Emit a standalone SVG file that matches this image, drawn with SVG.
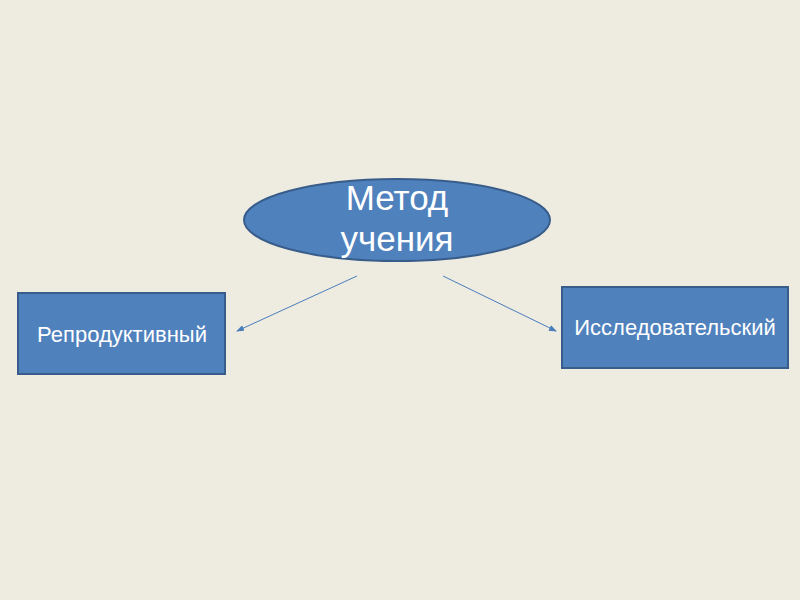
<svg xmlns="http://www.w3.org/2000/svg" width="800" height="600" viewBox="0 0 800 600">
<defs>
<style>
.node{fill:#4F81BD;stroke:#385D8A;stroke-width:2}
.lbl{font-family:"Liberation Sans",Arial,sans-serif;fill:#FFFFFF;text-anchor:middle}
.conn{stroke:#4A7EBB;stroke-width:1;fill:none;marker-end:url(#arr)}
</style>
<marker id="arr" markerWidth="8" markerHeight="6" refX="7" refY="3" orient="auto" markerUnits="userSpaceOnUse">
<path d="M0,0 L8,3 L0,6 z" fill="#4A7EBB"/>
</marker>
</defs>
<rect width="800" height="600" fill="#EEEBE1"/>
<g id="connectors">
<line class="conn" x1="357" y1="276" x2="237" y2="331"/>
<line class="conn" x1="443" y1="276" x2="556" y2="331"/>
</g>
<g id="metod">
<ellipse class="node" cx="397" cy="220" rx="153" ry="41"/>
<text class="lbl" x="397" y="210" font-size="35">Метод</text>
<text class="lbl" x="397" y="251" font-size="35">учения</text>
</g>
<g id="repro">
<rect class="node" x="18" y="293" width="207" height="81"/>
<text class="lbl" x="122" y="342" font-size="22">Репродуктивный</text>
</g>
<g id="issled">
<rect class="node" x="562" y="287" width="226" height="81"/>
<text class="lbl" x="675" y="335" font-size="22">Исследовательский</text>
</g>
</svg>
